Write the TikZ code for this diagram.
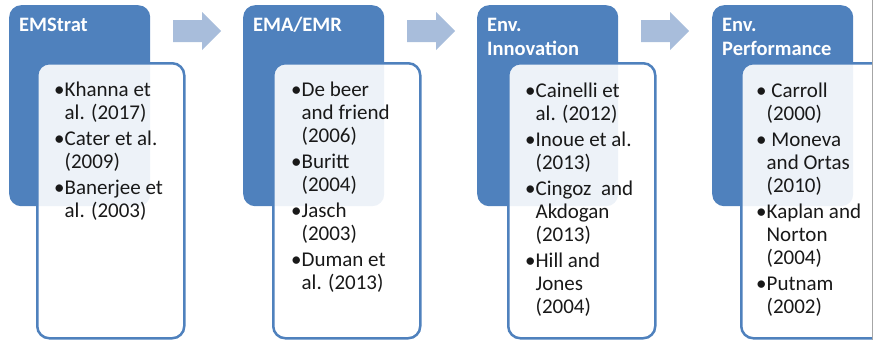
\documentclass[tikz,border=0pt]{standalone}
\usepackage{fontspec}
\setmainfont{Carlito}
\definecolor{accent}{HTML}{4F81BD}
\definecolor{arrowc}{HTML}{A8BDDB}
\definecolor{edgegray}{HTML}{A6A6A6}
\newcommand{\bodyfont}{\fontsize{21}{23}\selectfont}
\newcommand{\hdrfont}{\fontsize{20.5}{24}\selectfont\bfseries}
\begin{document}
\begin{tikzpicture}[x=1pt,y=-1pt,
  hdrbox/.style={draw=none, fill=accent, rounded corners=12pt, anchor=north west,
    minimum width=141pt, minimum height=201pt, inner sep=0pt},
  bodybox/.style={draw=accent, line width=2.5pt, fill=white, fill opacity=0.9,
    rounded corners=12pt, anchor=north west, minimum width=147pt, minimum height=275pt, inner sep=0pt},
  hdrtext/.style={anchor=base west, inner sep=0pt, text=white, font=\hdrfont},
  bodytext/.style={anchor=base west, inner sep=0pt, text=black!90, font=\bodyfont},
  flowarrow/.style={fill=arrowc, draw=none}]
\useasboundingbox (0,0) rectangle (873,340);
\clip (0,0) rectangle (873,340);

% group 1
\node[hdrbox] (h1) at (9,5) {};
\node[bodybox] (b1) at (36,62) {};
\node[hdrtext] (t1) at (19,31) {EMStrat};
\node[bodytext] (l1) at (54,96) {\begin{tabular}[t]{@{}l@{}l@{}}
•&Khanna et\\ &al. (2017)\\[3pt]
•&Cater et al.\\ &(2009)\\[3pt]
•&Banerjee et\\ &al. (2003)
\end{tabular}};

% group 2
\node[hdrbox] (h2) at (243,5) {};
\node[bodybox] (b2) at (272,62) {};
\node[hdrtext] (t2) at (253,31) {EMA/EMR};
\node[bodytext] (l2) at (291,96) {\begin{tabular}[t]{@{}l@{}l@{}}
•&De beer\\ &and friend\\ &(2006)\\[3pt]
•&Buritt\\ &(2004)\\[3pt]
•&Jasch\\ &(2003)\\[3pt]
•&Duman et\\ &al. (2013)
\end{tabular}};

% group 3
\node[hdrbox] (h3) at (477,5) {};
\node[bodybox] (b3) at (507,62) {};
\node[hdrtext] (t3) at (487,31) {\begin{tabular}[t]{@{}l@{}}Env.\\Innovation\end{tabular}};
\node[bodytext] (l3) at (525,97) {\begin{tabular}[t]{@{}l@{}l@{}}
•&Cainelli et\\ &al. (2012)\\[3pt]
•&Inoue et al.\\ &(2013)\\[3pt]
•&Cingoz~ and\\ &Akdogan\\ &(2013)\\[3pt]
•&Hill and\\ &Jones\\ &(2004)
\end{tabular}};

% group 4
\node[hdrbox] (h4) at (712,5) {};
\node[bodybox] (b4) at (740,62) {};
\node[hdrtext] (t4) at (722,31) {\begin{tabular}[t]{@{}l@{}}Env.\\Performance\end{tabular}};
\node[bodytext] (l4) at (756,97) {\begin{tabular}[t]{@{}l@{}l@{}}
•&\ Carroll\\ &(2000)\\[3pt]
•&\ Moneva\\ &and Ortas\\ &(2010)\\[3pt]
•&Kaplan and\\ &Norton\\ &(2004)\\[3pt]
•&Putnam\\ &(2002)
\end{tabular}};

% arrows
\foreach \ax in {173,407,641}{
  \fill[flowarrow] (\ax,20) -- (\ax+29,20) -- (\ax+29,12) -- (\ax+48,31)
    -- (\ax+29,50) -- (\ax+29,42) -- (\ax,42) -- cycle;
}

% image right edge line
\draw[edgegray, line width=0.8pt] (872.6,0) -- (872.6,340);
\end{tikzpicture}
\end{document}
